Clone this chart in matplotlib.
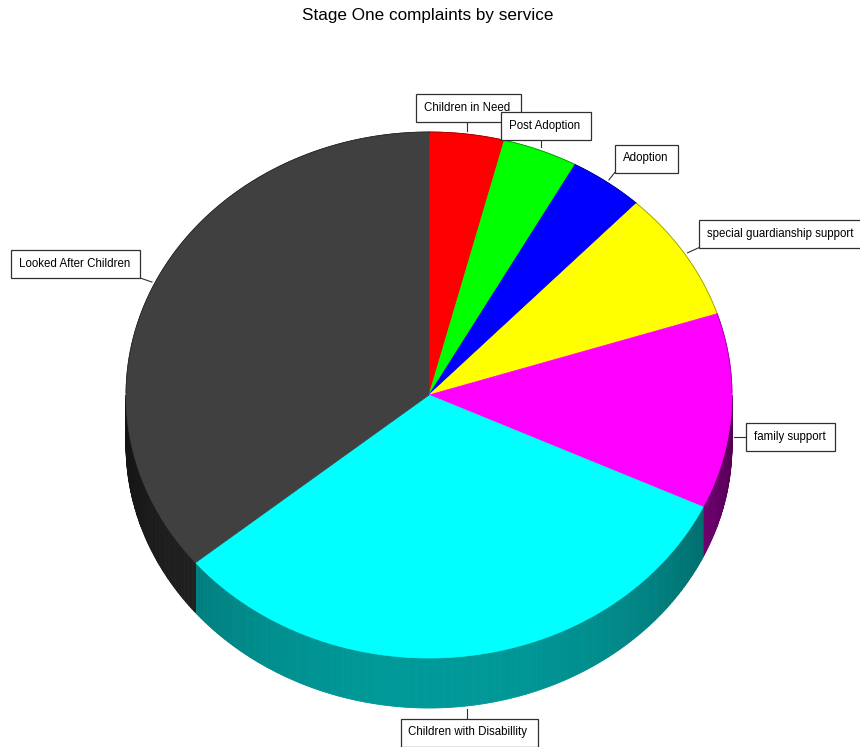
import numpy as np
import matplotlib
matplotlib.use("Agg")
import matplotlib.pyplot as plt
from matplotlib.collections import PolyCollection
from matplotlib.patches import Polygon, Rectangle
from matplotlib.colors import to_rgb

# ---- data ----
categories = ["Children in Need", "Post Adoption", "Adoption",
              "special guardianship support", "family support",
              "Children with Disabillity", "Looked After Children"]
values = [1, 1, 1, 2, 3, 8, 9]
colors = ["#FF0000", "#00FF00", "#0000FF", "#FFFF00", "#FF00FF", "#00FFFF", "#404040"]
title = "Stage One complaints by service"

# ---- layout (pixel space) ----
label_centers = [(467.5, 108), (545, 125.5), (645.5, 158.5), (780.5, 233.5),
                 (789.5, 437), (468, 732.5), (74.5, 264)]
CX, CY, RX, RY, DEPTH = 429, 395, 303, 263, 50
FONT = "Liberation Sans"

fig = plt.figure(figsize=(8.6, 7.47), dpi=100)
ax = fig.add_axes([0, 0, 1, 1])
ax.set_xlim(0, 860)
ax.set_ylim(747, 0)
ax.axis("off")

fracs = np.array(values, float) / sum(values)
bounds = np.concatenate([[0], np.cumsum(fracs)]) * 360.0


def pt(theta, dy=0.0):
    t = np.radians(theta)
    return (CX + RX * np.sin(t), CY - RY * np.cos(t) + dy)


def shade(theta):
    return 0.3 + 0.3 * max(0.0, -np.cos(np.radians(theta)))


# ---- side walls (front half only) ----
polys, fcs = [], []
for i, col in enumerate(colors):
    a0, a1 = bounds[i], bounds[i + 1]
    lo, hi = max(a0, 90.0), min(a1, 270.0)
    if hi <= lo:
        continue
    n = max(2, int((hi - lo) / 0.5) + 1)
    ts = np.linspace(lo, hi, n)
    base = np.array(to_rgb(col))
    for t1, t2 in zip(ts[:-1], ts[1:]):
        polys.append([pt(t1), pt(t2), pt(t2, DEPTH), pt(t1, DEPTH)])
        fcs.append(tuple(base * shade((t1 + t2) / 2)))
pc = PolyCollection(polys, facecolors=fcs, edgecolors=fcs, linewidths=0.6)
ax.add_collection(pc)

# ---- top faces ----
for i, col in enumerate(colors):
    a0, a1 = bounds[i], bounds[i + 1]
    ts = np.linspace(a0, a1, max(3, int((a1 - a0) / 0.5) + 1))
    verts = [(CX, CY)] + [pt(t) for t in ts]
    ax.add_patch(Polygon(verts, closed=True, facecolor=col, edgecolor=col, lw=0.5))
    # thin darker rim on the back half
    back = ts[(ts <= 90) | (ts >= 270)]
    if len(back) > 1:
        xy = np.array([pt(t) for t in back])
        ax.plot(xy[:, 0], xy[:, 1], color=tuple(np.array(to_rgb(col)) * 0.6), lw=0.6)

# ---- title ----
fig.text(428 / 860, 1 - 15.5 / 747, title, ha="center", va="center",
         fontsize=12.3, family=FONT, color="black")

# ---- labels ----
texts = []
for name, (x, y) in zip(categories, label_centers):
    texts.append(ax.text(x, y, name, ha="center", va="center", fontsize=8.3,
                         family=FONT, color="black", zorder=6))
fig.canvas.draw()
renderer = fig.canvas.get_renderer()
inv = ax.transData.inverted()
for i, t in enumerate(texts):
    bb = t.get_window_extent(renderer)
    (x0, y1), (x1, y0) = inv.transform([(bb.x0, bb.y0), (bb.x1, bb.y1)])
    bx0, bx1 = x0 - 8, x1 + 10
    by0, by1 = y0 - 8, y1 + 8
    ax.add_patch(Rectangle((bx0, by0), bx1 - bx0, by1 - by0, facecolor="white",
                           edgecolor="#303030", lw=0.9, zorder=5))
    mid = (bounds[i] + bounds[i + 1]) / 2
    c = np.cos(np.radians(mid))
    dy = DEPTH if c < -0.5 else (DEPTH / 2 if c < 0 else 0)
    ax_, ay_ = pt(mid, dy)
    qx, qy = np.clip(ax_, bx0, bx1), np.clip(ay_, by0, by1)
    d = np.hypot(ax_ - qx, ay_ - qy)
    if d > 4:
        ex = ax_ - (ax_ - qx) * 3 / d
        ey = ay_ - (ay_ - qy) * 3 / d
        ax.plot([qx, ex], [qy, ey], color="#303030", lw=0.8, zorder=4)

fig.savefig("out.png", dpi=100)
